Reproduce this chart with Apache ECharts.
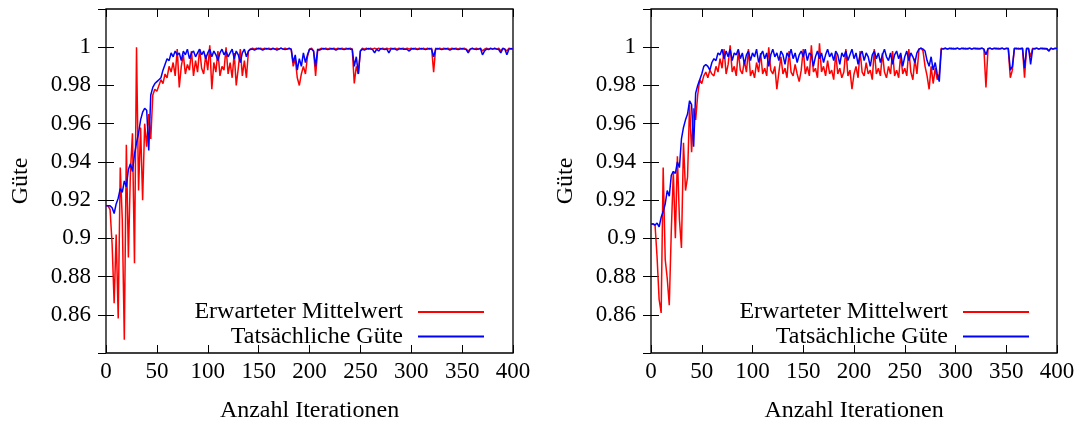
<!DOCTYPE html>
<html>
<head>
<meta charset="utf-8">
<script src="https://cdn.jsdelivr.net/npm/echarts@6/dist/echarts.min.js"></script>
<style>
html,body{margin:0;padding:0;background:#fff;}
#c{width:1083px;height:428px;}
</style>
</head>
<body>
<div id="c"></div>
<script>
// iteration step between stored samples
const STEP = 2;
const X_TICKS = [0, 50, 100, 150, 200, 250, 300, 350, 400];
const Y_TICKS = [0.86, 0.88, 0.9, 0.92, 0.94, 0.96, 0.98, 1];
const NAMES = ['Erwarteter Mittelwert', 'Tatsächliche Güte'];

// Left panel: expected mean (red)
const leftExpected = [
.917,.917,.915,.897,.866,.902,.858,.937,.910,.847,
.949,.890,.935,.955,.887,1.0,.925,.958,.920,.960,
.948,.965,.952,.975,.978,.977,.980,.983,.981,.986,
.984,.990,.987,.992,.985,.999,.979,.990,.996,.986,
.991,.988,.998,.985,.993,.987,.999,.989,.986,.996,
.988,1.001,.978,.992,.987,.998,.985,.990,.988,1.0,
.986,.992,.984,.997,.980,.989,.999,.985,.993,.984,
.998,.999,.9995,.999,.9995,.999,.9995,.999,.9995,.999,
.9995,.999,.9995,.999,.9995,.999,.9995,.999,.9995,.999,
.9995,.999,.990,.994,.984,.980,.986,.990,.986,.995,
.999,.9995,.998,.985,.998,.999,.9995,.999,.9995,.999,
.9995,.999,.9995,.999,.9995,.999,.9995,.999,.9995,.999,
.9995,.999,.981,.990,.986,.998,.9995,.999,.9995,.999,
.9995,.999,.9995,.999,.9995,.999,.9995,.999,.9995,.999,
.9995,.999,.9995,.999,.9995,.999,.9995,.999,.9995,.999,
.9995,.999,.9995,.999,.9995,.999,.9995,.999,.9995,.999,
.9995,.987,.9995,.999,.9995,.999,.9995,.999,.9995,.999,
.9995,.999,.9995,.999,.9995,.999,.9995,.999,.998,.999,
.9995,.999,.9995,.999,.9995,.998,.999,.9995,.999,.9995,
.999,.9995,.999,.9995,.998,.9995,.999,.998,.9995,.999,
.9995
];
// Left panel: actual quality (blue)
const leftActual = [
.917,.917,.917,.916,.913,.918,.921,.926,.924,.930,
.927,.936,.939,.935,.944,.950,.955,.962,.966,.968,
.967,.946,.975,.979,.981,.982,.983,.984,.988,.991,
.994,.993,.997,.995,.998,.996,.997,.993,.998,.996,
.999,.994,.997,.998,.995,.997,.999,.996,.998,.994,
.997,.999,.995,.998,.996,.993,.997,.999,.996,.998,
.995,.997,.999,.994,.998,.996,.992,.997,.999,.995,
.998,.999,.999,.9985,.999,.9995,.999,.9985,.999,.9993,
.999,.9988,.9993,.999,.9985,.999,.9995,.999,.9988,.999,
.9993,.999,.992,.996,.988,.994,.990,.997,.992,.996,
.999,.999,.998,.990,.999,.9985,.999,.9993,.999,.9988,
.999,.9993,.999,.9985,.999,.9993,.999,.9988,.999,.9993,
.999,.999,.990,.995,.986,.998,.999,.9985,.999,.9993,
.999,.9988,.997,.999,.998,.9993,.999,.9988,.999,.997,
.999,.9993,.999,.9985,.999,.9993,.999,.999,.9988,.998,
.999,.9993,.999,.9988,.999,.9993,.999,.9988,.999,.9993,
.999,.995,.999,.9993,.999,.9988,.999,.9993,.999,.9985,
.999,.9993,.999,.9988,.999,.9993,.999,.9988,.997,.999,
.9993,.999,.9988,.999,.9993,.996,.998,.999,.9988,.9993,
.999,.9993,.999,.9988,.997,.9993,.999,.996,.999,.9993,
.999
];
// Right panel: expected mean (red)
const rightExpected = [
.9075,.9075,.907,.890,.868,.861,.937,.889,.879,.865,
.904,.935,.900,.943,.910,.895,.950,.925,.932,.970,
.945,.968,.962,.975,.983,.981,.985,.987,.984,.988,
.986,.985,.990,.987,.994,.989,.999,.986,.991,1.001,
.987,.990,.985,.998,.988,.986,.993,.987,.999,.985,
.988,.984,.992,.987,.997,.986,.989,.985,1.0,.988,
.986,.990,.978,.987,.995,.986,.989,.984,.998,.987,
.985,.991,.986,.982,.988,.999,.986,.990,.985,1.001,
.987,.989,.984,1.002,.987,.990,.985,.993,.986,.988,
.983,.997,.986,.989,.984,.987,.999,.985,.988,.978,
.986,.990,.984,.998,.987,.985,.992,.986,.988,.983,
.999,.986,.989,.985,.997,.987,.984,.990,.986,.998,
.985,.988,.984,.996,.986,.989,.985,.999,.987,.983,
.994,.986,.999,.9995,.998,.990,.985,.978,.990,.981,
.989,.983,.986,.9995,.999,.9995,.999,.9995,.999,.9995,
.999,.9995,.999,.9995,.999,.9995,.999,.9995,.999,.9995,
.999,.9995,.999,.9995,.999,.979,.999,.9995,.999,.9995,
.999,.9995,.999,.9995,.999,.9995,.999,.984,.988,.9995,
.999,.9995,.999,.9995,.984,.9995,.999,.995,.9995,.999,
.9995,.999,.9995,.999,.9995,.999,.998,.9995,.999,.9995,
.999
];
// Right panel: actual quality (blue)
const rightActual = [
.9075,.9075,.907,.908,.906,.911,.914,.918,.925,.922,
.933,.935,.934,.940,.937,.952,.958,.962,.965,.972,
.970,.948,.976,.980,.983,.986,.990,.991,.990,.988,
.992,.994,.993,.997,.996,.999,.994,.998,.995,.999,
.993,.997,.996,.999,.994,.997,.991,.996,.998,.993,
.997,.995,.999,.992,.996,.998,.994,.997,.990,.996,
.999,.995,.997,.993,.998,.996,.991,.997,.995,.999,
.994,.997,.992,.996,.998,.995,.999,.993,.997,.996,
.990,.995,.998,.994,.997,.992,.996,.999,.995,.997,
.993,.998,.996,.991,.997,.995,.998,.993,.996,.999,
.994,.997,.991,.996,.998,.993,.997,.995,.990,.996,
.998,.994,.997,.992,.996,.999,.995,.993,.997,.991,
.996,.998,.994,.997,.990,.995,.998,.993,.997,.995,
.992,.997,.999,.9995,.999,.998,.993,.990,.995,.988,
.992,.986,.982,.999,.9992,.9995,.999,.9993,.9995,.999,
.9993,.9995,.999,.9993,.9995,.999,.9993,.9995,.999,.9993,
.9995,.999,.9993,.9995,.999,.996,.9993,.9995,.999,.9993,
.9995,.999,.9993,.9995,.999,.9993,.9995,.988,.990,.9993,
.9995,.999,.9993,.9995,.989,.9993,.9995,.991,.999,.9993,
.9995,.999,.9993,.9995,.999,.9993,.998,.9995,.999,.9993,
.9995
];

const FONT = 'Liberation Serif';
const RED = '#ff0000';
const BLUE = '#0000ff';

function pairs(arr) { return arr.map((v, i) => [i * STEP, v]); }

const xMin = X_TICKS[0], xMax = X_TICKS[X_TICKS.length - 1];
const xInt = X_TICKS[1] - X_TICKS[0];
const yInt = 0.02;
const yMin = 0.84, yMax = 1.02;

function xAx(grid, pos, main) {
  return {
    type: 'value', gridIndex: grid, position: pos, min: xMin, max: xMax, interval: xInt,
    axisLine: { show: false },
    axisTick: { show: true, inside: true, length: 8, lineStyle: { color: '#000', width: 1 } },
    axisLabel: { show: main, color: '#000', fontFamily: FONT, fontSize: 23, margin: 7 },
    splitLine: { show: false },
    name: main ? 'Anzahl Iterationen' : '',
    nameLocation: 'middle', nameGap: 46,
    nameTextStyle: { color: '#000', fontFamily: FONT, fontSize: 24 }
  };
}
function yAx(grid, pos, main) {
  return {
    type: 'value', gridIndex: grid, position: pos, min: yMin, max: yMax, interval: yInt,
    axisLine: { show: false },
    axisTick: { show: true, inside: true, length: 8, lineStyle: { color: '#000', width: 1 } },
    axisLabel: { show: main, color: '#000', fontFamily: FONT, fontSize: 23, margin: 15,
                 showMinLabel: false, showMaxLabel: false },
    splitLine: { show: false },
    name: main ? 'Güte' : '',
    nameLocation: 'middle', nameGap: 73, nameRotate: 90,
    nameTextStyle: { color: '#000', fontFamily: FONT, fontSize: 24 }
  };
}
function line(name, data, color, xi, yi, z) {
  return {
    type: 'line', name: name, xAxisIndex: xi, yAxisIndex: yi, data: pairs(data),
    showSymbol: false, symbol: 'none', z: z,
    lineStyle: { color: color, width: 1.5 }, itemStyle: { color: color },
    emphasis: { disabled: true }
  };
}
function legend(right) {
  return {
    data: NAMES, orient: 'vertical', align: 'right', right: right, top: 300,
    itemWidth: 66, itemHeight: 2, itemGap: 0.5, icon: 'rect', padding: 0, selectedMode: false,
    textStyle: { color: '#000', fontFamily: FONT, fontSize: 24, lineHeight: 24, padding: [0, 10, 0, 0] }
  };
}

const chart = echarts.init(document.getElementById('c'), null, { renderer: 'canvas' });
chart.setOption({
  animation: false,
  backgroundColor: '#fff',
  grid: [
    { left: 106, top: 9, width: 407, height: 348, show: true, borderColor: '#000', borderWidth: 1.3, containLabel: false },
    { left: 651, top: 9, width: 406, height: 348, show: true, borderColor: '#000', borderWidth: 1.3, containLabel: false }
  ],
  xAxis: [xAx(0, 'bottom', true), xAx(0, 'top', false), xAx(1, 'bottom', true), xAx(1, 'top', false)],
  yAxis: [yAx(0, 'left', true), yAx(0, 'right', false), yAx(1, 'left', true), yAx(1, 'right', false)],
  legend: [legend(599), legend(54)],
  series: [
    line(NAMES[0], leftExpected, RED, 0, 0, 2),
    line(NAMES[1], leftActual, BLUE, 0, 0, 3),
    line(NAMES[0], rightExpected, RED, 2, 2, 2),
    line(NAMES[1], rightActual, BLUE, 2, 2, 3)
  ]
});
</script>
</body>
</html>
